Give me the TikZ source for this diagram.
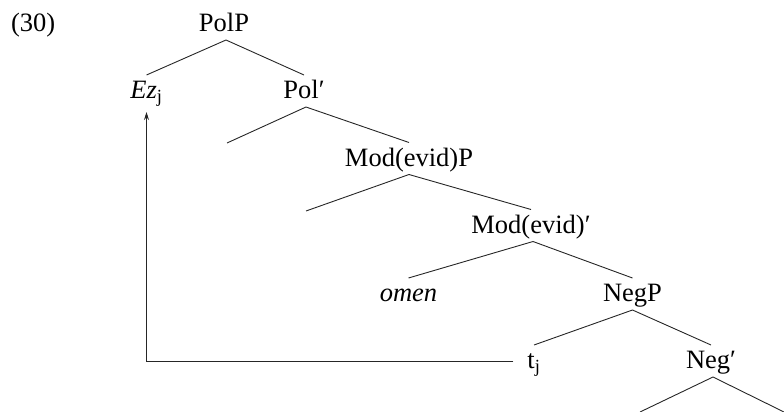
\documentclass[tikz,border=0pt]{standalone}
\usepackage{fontspec}
\setmainfont{Liberation Serif}
\usetikzlibrary{arrows.meta}
\begin{document}
\begin{tikzpicture}[x=1pt,y=-1pt,
  tn/.style={inner sep=0pt,outer sep=0pt,text height=23.5pt,text depth=8.5pt,anchor=base,font=\fontsize{26.5}{32}\selectfont},
  br/.style={line width=0.9pt,draw=black!85},
  mv/.style={line width=0.9pt,draw=black!85,-{Stealth[length=8pt,width=5pt]}}]
\useasboundingbox (0,0) rectangle (784,412);
\node[tn,anchor=base west] (ex) at (11,31.5) {(30)};
\node[tn] (polp) at (224,31.5) {PolP};
\node[tn] (ez) at (146.5,98.5) {\textit{Ez}\textsubscript{j}};
\node[tn] (polb) at (304,98.5) {Pol′};
\coordinate (pole) at (227,143);
\node[tn] (modp) at (409,166) {Mod(evid)P};
\coordinate (mode) at (306,211);
\node[tn] (modb) at (531,233) {Mod(evid)′};
\node[tn] (omen) at (408.5,301.5) {\textit{omen}};
\node[tn] (negp) at (632.5,301.5) {NegP};
\node[tn] (tj) at (534,368.5) {t\textsubscript{j}};
\node[tn] (negb) at (711,368.5) {Neg′};
\coordinate (nl) at (640,412);
\coordinate (nr) at (784,412);
\draw[br] (ez.north) -- ([xshift=2pt]polp.south) -- (polb.north);
\draw[br] (pole) -- ([xshift=2pt]polb.south) -- (modp.north);
\draw[br] (mode) -- (modp.south) -- (modb.north);
\draw[br] (omen.north) -- ([xshift=2pt]modb.south) -- (negp.north);
\draw[br] (tj.north) -- (negp.south) -- (negb.north);
\draw[br] (nl) -- ([xshift=2pt]negb.south) -- (nr);
\draw[mv,shorten <=14pt,shorten >=5pt] (tj.west) -| (ez.south);
\end{tikzpicture}
\end{document}
